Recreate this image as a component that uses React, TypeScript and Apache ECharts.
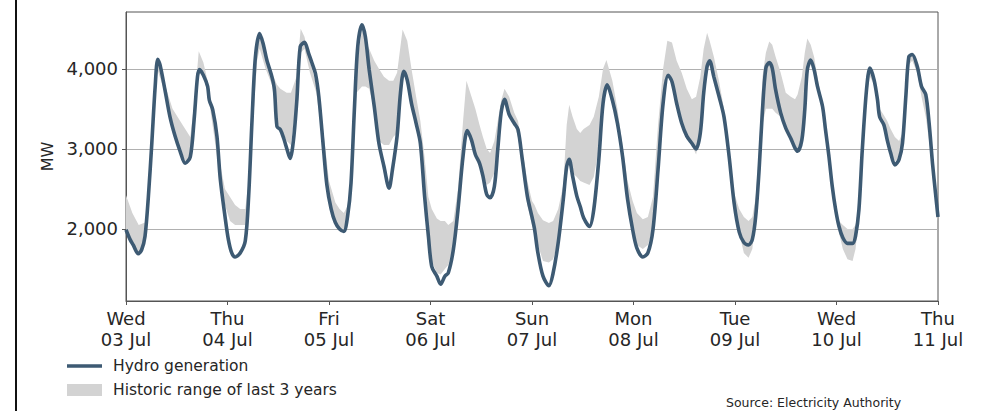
import React, { useEffect, useRef } from "react";
import * as echarts from "echarts";

// ---- data (hours since Wed 03 Jul 00:00, MW) ----
const dayNames = ["Wed", "Thu", "Fri", "Sat", "Sun", "Mon", "Tue", "Wed", "Thu"];
const dayDates = ["03 Jul", "04 Jul", "05 Jul", "06 Jul", "07 Jul", "08 Jul", "09 Jul", "10 Jul", "11 Jul"];
const yTicks = [2000, 3000, 4000];

const lineHours = [
  0, 0.95, 1.7, 2.9, 3.7, 4.5, 5.3, 6.1, 6.9, 7.5, 8.05, 9.2, 10.4, 11.6, 12.8, 14.0, 15.2, 16.1, 16.9, 17.4,
  18.3, 19.3, 19.7, 20.5, 21.5, 22.3, 23.4, 24.2, 25.0, 25.8, 27.0, 28.2, 29.0, 29.8, 30.6, 31.6, 32.4, 33.3,
  34.5, 35.1, 35.7, 36.5, 37.3, 38.1, 38.8, 39.6, 40.4, 41.2, 42.2, 43.2, 44.0, 44.8, 45.6, 46.7, 47.5, 48.5,
  49.5, 50.5, 51.5, 52.4, 53.2, 54.0, 54.8, 55.8, 56.6, 57.5, 58.7, 59.8, 61.0, 62.2, 63.0, 64.1, 64.9, 65.7,
  66.5, 67.5, 68.6, 69.6, 70.6, 71.5, 72.3, 73.5, 74.4, 75.4, 76.2, 77.4, 78.5, 79.7, 80.7, 81.7, 82.6, 83.6,
  84.4, 85.3, 86.1, 87.1, 87.9, 88.7, 89.5, 90.6, 91.8, 92.7, 93.7, 94.9, 96.0, 96.6, 97.4, 98.6, 100.0, 101.0,
  102.2, 103.4, 104.2, 104.8, 105.6, 106.6, 107.4, 108.2, 109.6, 110.6, 111.8, 112.8, 113.8, 115.0, 116.2,
  117.4, 118.6, 119.8, 120.8, 122.2, 123.4, 124.6, 125.8, 127.0, 128.2, 129.1, 130.2, 131.4, 132.6, 133.8,
  134.8, 135.8, 136.6, 137.4, 138.0, 139.0, 140.2, 141.4, 142.6, 143.8, 145.0, 146.1, 147.2, 148.1, 148.9,
  149.7, 150.5, 151.3, 152.1, 152.8, 153.6, 154.8, 156.0, 157.2, 158.2, 158.8, 159.8, 160.5, 161.1, 161.9,
  162.7, 163.5, 164.7, 165.4, 166.2, 167.0, 167.8, 168.6, 169.5, 170.6, 171.8, 172.5, 173.3, 174.1, 175.1,
  175.9, 176.9, 177.7, 178.2, 179.2, 180.0, 180.8, 181.8, 182.8, 183.6, 184.4, 185.1, 185.9, 187.1, 188.1,
  189.1, 189.9, 190.7, 191.4, 192.0,
];
const lineMW = [
  1990, 1870, 1800, 1690, 1740, 1910, 2410, 3070, 3780, 4120, 4050, 3740, 3400, 3160, 2970, 2820, 2900, 3360, 3900, 3990,
  3920, 3780, 3610, 3490, 3160, 2620, 2160, 1870, 1700, 1650, 1700, 1850, 2410, 3360, 4150, 4440, 4320, 4110,
  3900, 3740, 3280, 3240, 3130, 2990, 2880, 3110, 3610, 4280, 4330, 4190, 4070, 3940, 3650, 3000, 2550, 2250,
  2080, 2000, 1970, 2160, 2570, 3490, 4280, 4550, 4400, 3990, 3530, 3070, 2780, 2510, 2740, 3160, 3700, 3970,
  3860, 3570, 3320, 3070, 2410, 1910, 1530, 1410, 1310, 1410, 1450, 1740, 2240, 2910, 3230, 3110, 2930, 2820,
  2660, 2430, 2390, 2530, 2990, 3450, 3620, 3430, 3320, 3240, 2870, 2410, 2150, 2000, 1700, 1410, 1290, 1450,
  1830, 2370, 2780, 2870, 2660, 2410, 2280, 2140, 2030, 2240, 2870, 3570, 3800, 3610, 3320,
  2910, 2370, 1990, 1760, 1650, 1700, 1990, 2740, 3570, 3920, 3840, 3570, 3320, 3160, 3070,
  3000, 3200, 3700, 4030, 4100, 3900, 3660, 3400, 2910, 2320, 1960, 1830, 1800, 1870, 2160,
  2740, 3490, 4010, 4080, 4010, 3740, 3450, 3260, 3130, 3010, 2970, 3110, 3490, 3990, 4110,
  3990, 3780, 3530, 3240, 2910, 2530, 2240, 2030, 1890, 1820, 1820, 1910, 2240, 2990, 3740,
  4010, 3860, 3610, 3400, 3300, 3110, 2950, 2800, 2870, 3070, 3660, 4150, 4180, 4030, 3780,
  3680, 3320, 2820, 2450, 2150,
];

const bandHours = [
  0, 1.5, 3, 4.5, 5.5, 7, 7.5, 9.2, 11, 12.8, 14, 15.2, 16.3, 17.2, 18.3, 19.5, 21, 22.3, 23.4, 24.6,
  25.8, 27, 28.2, 29, 30, 31, 31.6, 33, 34.5, 35.7, 36.5, 38, 39, 40.3, 41.3, 42.2, 43.5, 45, 46.5, 48,
  49.5, 50.5, 51.5, 52.5, 53.5, 54.5, 55.8, 56.6, 57.5, 58.7, 59.8, 61, 62.2, 63.2, 64.1, 65.4, 66.5, 67.5,
  68.6, 69.6, 70.6, 71.5, 72.3, 73.5, 74.4, 75.4, 76.2, 77.4, 78.5, 79.7, 80.5, 81.7, 82.6, 83.6, 84.4,
  85.3, 86.1, 87.1, 87.9, 88.7, 89.5, 90.6, 91.8, 92.7, 93.7, 94.9, 96, 96.6, 97.4, 98.6, 100, 101, 102.2,
  103.4, 104.2, 104.8, 105.6, 106.6, 107.4, 108.2, 109.6, 110.6, 111.8, 112.8, 113.6, 115, 116.2, 117.4,
  118.6, 119.8, 120.8, 122.2, 123.4, 124.6, 125.8, 127, 128, 129.1, 130.2, 131.4, 132.6, 133.8, 134.8,
  135.8, 136.6, 137.4, 138, 139, 140.2, 141.4, 142.6, 143.8, 145, 146.1, 147.2, 148.1, 148.9, 149.7, 150.5,
  151.3, 152.1, 152.8, 153.6, 154.8, 156, 157.2, 158.2, 158.8, 159.8, 160.5, 161.1, 161.9, 162.7, 163.5,
  164.7, 165.4, 166.2, 167, 167.8, 168.6, 169.5, 170.6, 171.8, 172.5, 173.3, 174.1, 175.1, 175.9, 176.9,
  177.7, 178.2, 179.2, 180, 180.8, 181.8, 182.8, 183.6, 184.4, 185.1, 185.9, 187.1, 188.1, 189.1, 189.9,
  190.7, 191.4, 192,
];
const bandLow = [
  1950, 1800, 1680, 1850, 2350, 3750, 3980, 3700, 3280, 3000, 2850, 2900, 3400, 3950, 3900, 3650, 3100, 2600, 2300, 2100,
  2050, 2050, 2050, 2400, 3300, 4100, 4250, 4000, 3800, 3350, 3250, 3100, 3050, 3600, 4200, 4250, 3950, 3700, 3100, 2400,
  2100, 2000, 1980, 2150, 2700, 3700, 3780, 3780, 3750, 3500, 3100, 3050, 3050, 3150, 3200, 3950, 3860, 3570,
  3320, 3050, 2450, 2000, 1600, 1450, 1430, 1500, 1550, 1780, 2250, 2900, 3200, 3100, 2930, 2820, 2660,
  2550, 2580, 2700, 3050, 3450, 3620, 3420, 3300, 3150, 2750, 2300, 2050, 1950, 1800, 1600, 1580, 1620, 1850,
  2370, 2800, 2870, 2700, 2650, 2600, 2580, 2550, 2650, 3000, 3600, 3800, 3620, 3320, 2900,
  2370, 2000, 1800, 1750, 1800, 2000, 2750, 3570, 3900, 3840, 3570, 3320, 3160, 3050, 2930,
  3200, 3700, 4030, 4100, 3900, 3650, 3400, 2900, 2320, 1950, 1700, 1640, 1750, 2150, 2740, 3300,
  3500, 3500, 3500, 3450, 3400, 3260, 3130, 3050, 3000, 3150, 3500, 3950, 4050, 3950, 3750,
  3450, 3150, 2850, 2450, 2150, 1950, 1750, 1620, 1600, 1750, 2150, 2900, 3650, 3900, 3800,
  3550, 3400, 3250, 3100, 2950, 2850, 2870, 3050, 3600, 4050, 4100, 3950, 3650, 3400, 3100,
  2700, 2350, 2100,
];
const bandHigh = [
  2420, 2200, 2050, 2080, 2500, 3950, 4120, 3800, 3500, 3350, 3250, 3150, 3650, 4220, 4080, 3800, 3300, 2800, 2500, 2400,
  2300, 2250, 2250, 2600, 3500, 4300, 4420, 4150, 3950, 3800, 3750, 3700, 3700, 3900, 4500, 4400, 4100, 3800, 3300, 2600,
  2330, 2250, 2200, 2300, 2900, 4050, 4480, 4360, 4250, 4100, 4000, 3900, 3850, 3850, 3950, 4490, 4350, 4000,
  3650, 3350, 2900, 2400, 2250, 2130, 2100, 2100, 2050, 2100, 2500, 3350, 3850, 3650, 3500, 3300, 3150,
  3000, 2950, 3100, 3350, 3600, 3750, 3650, 3450, 3350, 3000, 2600, 2350, 2300, 2200, 2110, 2075, 2100, 2250,
  2550, 3300, 3550, 3400, 3250, 3200, 3250, 3300, 3400, 3650, 4000, 4110, 3850, 3500, 3050,
  2600, 2350, 2200, 2120, 2150, 2400, 3300, 4000, 4350, 4330, 4100, 3950, 3750, 3620, 3650,
  3900, 4250, 4450, 4350, 4150, 3850, 3500, 3000, 2450, 2250, 2150, 2100, 2150, 2400, 3000, 3900,
  4200, 4340, 4300, 4150, 3950, 3700, 3650, 3620, 3680, 3900, 4200, 4380, 4300, 4150, 3900,
  3550, 3250, 2950, 2600, 2300, 2100, 2050, 2000, 2000, 2050, 2300, 3050, 3800, 4000, 3900,
  3650, 3500, 3420, 3350, 3250, 3150, 3100, 3200, 3700, 4150, 4200, 4050, 3850, 3650, 3300,
  2850, 2450, 2200,
];

const FONT = "DejaVu Sans";
const LINE_COLOR = "#3d5a73";
const BAND_COLOR = "#d3d3d3";
const TEXT_COLOR = "#262626";
const AXIS_COLOR = "#555555";

// legend line icon: a 3.5px bar centred in a 35x12 box (tiny invisible strips fix the box)
const LINE_ICON = "path://M0,0H35V0.01H0Z M0,4.25H35V7.75H0Z M0,11.99H35V12H0Z";

export default function App() {
  const ref = useRef<HTMLDivElement>(null);

  useEffect(() => {
    if (!ref.current) return;
    const chart = echarts.init(ref.current, null, { renderer: "svg" });

    chart.setOption({
      animation: false,
      backgroundColor: "#ffffff",
      textStyle: { fontFamily: FONT },
      grid: {
        left: 126,
        right: 44,
        top: 12,
        bottom: 110,
        show: true,
        borderColor: AXIS_COLOR,
        borderWidth: 1,
      },
      xAxis: {
        type: "value",
        min: 0,
        max: 192,
        interval: 24,
        axisLine: { show: true, lineStyle: { color: AXIS_COLOR, width: 1 } },
        axisTick: { show: true, length: 4, lineStyle: { color: AXIS_COLOR } },
        splitLine: { show: false },
        axisLabel: {
          fontFamily: FONT,
          fontSize: 18,
          color: TEXT_COLOR,
          lineHeight: 21,
          margin: 7,
          showMinLabel: true,
          showMaxLabel: true,
          hideOverlap: false,
          formatter: (v: number) => {
            const i = Math.round(v / 24);
            return (dayNames[i] || "") + "\n" + (dayDates[i] || "");
          },
        },
      },
      yAxis: {
        type: "value",
        min: 1100,
        max: 4710,
        name: "MW",
        nameLocation: "middle",
        nameGap: 71,
        nameTextStyle: { fontFamily: FONT, fontSize: 16, color: TEXT_COLOR },
        axisLine: { show: true, lineStyle: { color: AXIS_COLOR, width: 1 } },
        axisTick: { show: true, length: 4, customValues: yTicks, lineStyle: { color: AXIS_COLOR } },
        splitLine: { show: true, lineStyle: { color: "#b0b0b0", width: 1 } },
        axisLabel: {
          customValues: yTicks,
          fontFamily: FONT,
          fontSize: 18,
          color: TEXT_COLOR,
          margin: 8,
          formatter: (v: number) => v.toLocaleString("en-US"),
        },
      },
      legend: {
        left: 67,
        top: 357,
        orient: "vertical",
        itemWidth: 35,
        itemHeight: 12,
        itemGap: 6,
        padding: 0,
        selectedMode: false,
        textStyle: { fontFamily: FONT, fontSize: 15.5, color: TEXT_COLOR, lineHeight: 18, padding: [0, 0, 0, 6] },
        data: [
          { name: "Hydro generation", icon: LINE_ICON, itemStyle: { color: LINE_COLOR } },
          { name: "Historic range of last 3 years", icon: "rect", itemStyle: { color: BAND_COLOR } },
        ],
      },
      series: [
        {
          name: "Historic range of last 3 years",
          type: "custom",
          coordinateSystem: "cartesian2d",
          silent: true,
          itemStyle: { color: BAND_COLOR },
          data: bandHours.map((h, i) => [h, bandLow[i], bandHigh[i]]),
          encode: { x: 0, y: [1, 2] },
          renderItem: (params: any, api: any) => {
            if (params.dataIndex !== 0) return null;
            const top = bandHours.map((h, i) => api.coord([h, bandHigh[i]]));
            const bottom = bandHours.map((h, i) => api.coord([h, bandLow[i]])).reverse();
            return {
              type: "polygon",
              shape: { points: top.concat(bottom) },
              style: { fill: BAND_COLOR, stroke: null },
            };
          },
          z: 1,
        },
        {
          name: "Hydro generation",
          type: "line",
          symbol: "none",
          smooth: 0.3,
          color: LINE_COLOR,
          lineStyle: { width: 3.6, color: LINE_COLOR },
          data: lineHours.map((h, i) => [h, lineMW[i]]),
          z: 3,
        },
      ],
      graphic: [
        {
          type: "rect",
          shape: { x: 15, y: 0, width: 2, height: 411 },
          style: { fill: "#111111" },
          silent: true,
        },
        {
          type: "text",
          x: 726,
          y: 396,
          style: {
            text: "Source: Electricity Authority",
            fontFamily: FONT,
            fontSize: 12.5,
            fill: TEXT_COLOR,
          },
          silent: true,
        },
      ],
    });

    return () => chart.dispose();
  }, []);

  return (
    <div
      ref={ref}
      style={{ position: "fixed", left: 0, top: 0, width: 982, height: 411, background: "#fff" }}
    />
  );
}
